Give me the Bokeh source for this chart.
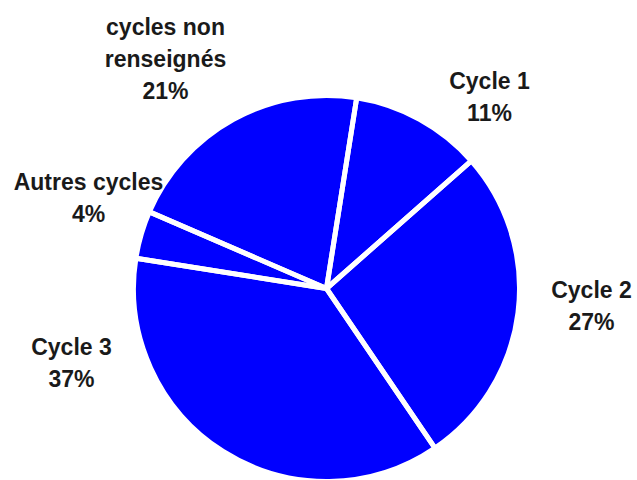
import math
from bokeh.plotting import figure
from bokeh.models import Range1d, ColumnDataSource
from bokeh.core.properties import value
from bokeh.embed import file_html
from bokeh.resources import INLINE

# Data
categories = ["Cycle 1", "Cycle 2", "Cycle 3", "Autres cycles", "cycles non renseignés"]
percents = [11, 27, 37, 4, 21]
label_lines = [["Cycle 1", "11%"], ["Cycle 2", "27%"], ["Cycle 3", "37%"],
               ["Autres cycles", "4%"], ["cycles non", "renseignés", "21%"]]

W, H = 637, 480
p = figure(width=W, height=H, output_backend="svg", toolbar_location=None,
           x_range=Range1d(0, W), y_range=Range1d(-H, 0),
           min_border=0, outline_line_color=None)
p.axis.visible = False
p.grid.visible = False
p.background_fill_color = "white"
p.border_fill_color = "white"

cx, cy, r = 326, -288, 193
start_offset = 81  # degrees (first slice starts slightly right of top)
total = sum(percents)
starts, ends = [], []
cum = 0
for v in percents:
    starts.append(math.radians(start_offset - cum / total * 360))
    cum += v
    ends.append(math.radians(start_offset - cum / total * 360))

src = ColumnDataSource(dict(x=[cx] * len(percents), y=[cy] * len(percents),
                            start=starts, end=ends, cat=categories))
p.wedge(x="x", y="y", radius=r, start_angle="start", end_angle="end",
        direction="clock", source=src, fill_color="#0000FF", line_color=None)
p.wedge(x="x", y="y", radius=r, start_angle="start", end_angle="end",
        direction="clock", source=src, fill_alpha=0, line_color="white", line_width=5)

# Label anchor positions (centre x, first baseline y) in pixels
label_pos = [(489, 80), (591, 289), (71, 346), (88, 181), (165, 26)]
line_gap = 32
tx, ty, tt = [], [], []
for (lx, ly), lines in zip(label_pos, label_lines):
    for i, t in enumerate(lines):
        tx.append(lx)
        ty.append(-(ly + i * line_gap))
        tt.append(t)
p.text(x=tx, y=ty, text=tt, text_align="center", text_baseline="alphabetic",
       text_font=value("Liberation Sans"), text_font_style="bold",
       text_font_size="23px", text_color="#1a1a1a")

open("out.html", "w").write(file_html(p, INLINE))
